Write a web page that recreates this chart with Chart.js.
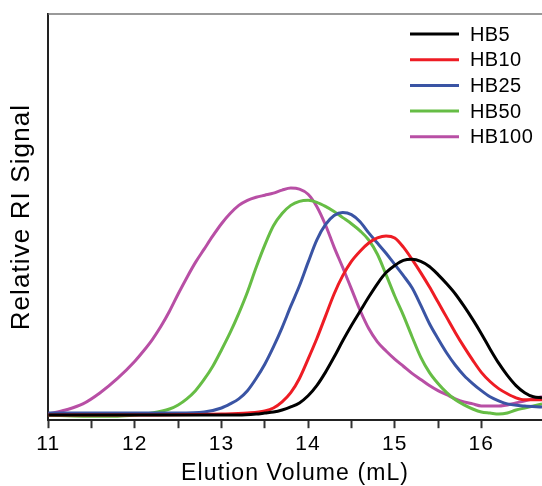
<!DOCTYPE html>
<html>
<head>
<meta charset="utf-8">
<script src="https://cdn.jsdelivr.net/npm/chart.js@4/dist/chart.umd.min.js"></script>
<style>
  html, body { margin: 0; padding: 0; background: #fff; overflow: hidden; }
  #wrap { width: 542px; height: 486px; }
</style>
</head>
<body>
<div id="wrap"><canvas id="c" width="542" height="486"></canvas></div>
<script>
// Series labels
const seriesLabels = ['HB5', 'HB10', 'HB25', 'HB50', 'HB100'];
const seriesColors = ['#000000', '#ee1c24', '#3a54a4', '#66bd45', '#b84fa5'];

// Elution volume (mL) and relative RI signal (arbitrary units) per series
const hb5Vol = [11.0, 11.5, 12.0, 12.5, 13.0, 13.2, 13.4, 13.5, 13.6, 13.7, 13.8, 13.9, 14.0, 14.1, 14.2, 14.3, 14.4, 14.5, 14.6, 14.7, 14.8, 14.9, 15.0, 15.1, 15.2, 15.3, 15.4, 15.5, 15.6, 15.7, 15.8, 15.9, 16.0, 16.1, 16.2, 16.3, 16.4, 16.5, 16.6, 16.7];
const hb5Sig = [5, 5, 5, 5, 5, 5, 6, 7, 8, 10, 13, 17, 24, 34, 47, 62, 78, 93, 107, 121, 134, 145, 152, 157, 158, 156, 151, 143, 134, 124, 112, 99, 85, 70, 56, 44, 34, 27, 23, 22];

const hb10Vol = [11.0, 12.0, 13.0, 13.3, 13.5, 13.6, 13.7, 13.8, 13.9, 14.0, 14.1, 14.2, 14.3, 14.4, 14.5, 14.6, 14.7, 14.8, 14.9, 15.0, 15.1, 15.2, 15.3, 15.4, 15.5, 15.6, 15.7, 15.8, 15.9, 16.0, 16.1, 16.2, 16.3, 16.4, 16.5, 16.7];
const hb10Sig = [5, 5, 6, 7, 9, 12, 18, 27, 41, 60, 80, 102, 124, 142, 156, 166, 174, 179, 181, 179, 170, 158, 145, 131, 116, 101, 86, 72, 59, 47, 38, 31, 26, 22, 20, 20];

const hb25Vol = [11.0, 12.0, 12.5, 12.8, 13.0, 13.1, 13.2, 13.3, 13.4, 13.5, 13.6, 13.7, 13.8, 13.9, 14.0, 14.1, 14.2, 14.3, 14.4, 14.5, 14.6, 14.7, 14.8, 14.9, 15.0, 15.1, 15.2, 15.3, 15.4, 15.5, 15.6, 15.7, 15.8, 15.9, 16.0, 16.1, 16.2, 16.3, 16.5, 16.7];
const hb25Sig = [7, 7, 7, 8, 12, 16, 21, 29, 41, 55, 72, 91, 112, 132, 155, 177, 192, 201, 204, 202, 195, 184, 174, 164, 153, 142, 130, 113, 95, 80, 66, 54, 44, 36, 29, 23, 19, 16, 14, 13];

const hb50Vol = [11.0, 11.4, 11.8, 12.0, 12.2, 12.4, 12.5, 12.6, 12.7, 12.8, 12.9, 13.0, 13.1, 13.2, 13.3, 13.4, 13.5, 13.6, 13.7, 13.8, 13.9, 14.0, 14.1, 14.2, 14.3, 14.4, 14.5, 14.6, 14.7, 14.8, 14.9, 15.0, 15.1, 15.2, 15.3, 15.4, 15.5, 15.6, 15.7, 15.8, 15.9, 16.0, 16.1, 16.2, 16.3, 16.4, 16.5, 16.7];
const hb50Sig = [5, 4, 4, 5, 7, 11, 15, 21, 29, 40, 53, 69, 86, 105, 126, 150, 172, 191, 203, 211, 215, 216, 214, 210, 205, 199, 193, 186, 177, 163, 143, 122, 103, 82, 62, 47, 36, 27, 20, 15, 11, 8, 7, 6, 7, 10, 12, 16];

const hb100Vol = [11.0, 11.2, 11.4, 11.6, 11.8, 12.0, 12.1, 12.2, 12.3, 12.4, 12.5, 12.6, 12.7, 12.8, 12.9, 13.0, 13.1, 13.2, 13.3, 13.4, 13.5, 13.6, 13.7, 13.8, 13.9, 14.0, 14.1, 14.2, 14.3, 14.4, 14.5, 14.6, 14.7, 14.8, 14.9, 15.0, 15.1, 15.2, 15.3, 15.4, 15.5, 15.6, 15.7, 15.8, 15.9, 16.0, 16.2, 16.4, 16.7];
const hb100Sig = [6, 10, 16, 27, 41, 58, 68, 79, 92, 107, 124, 140, 155, 168, 181, 193, 203, 211, 216, 219, 221, 223, 226, 228, 227, 222, 210, 192, 170, 150, 129, 108, 90, 77, 68, 60, 53, 46, 40, 34, 29, 25, 21, 18, 16, 14, 14, 17, 23];

// Axis range and tick labels
const xMin = 11, xMax = 16.7, xStep = 0.5;
const yMin = 0, yMax = 399;
const xTitle = 'Elution Volume (mL)';
const yTitle = 'Relative RI Signal';

const vols = [hb5Vol, hb10Vol, hb25Vol, hb50Vol, hb100Vol];
const sigs = [hb5Sig, hb10Sig, hb25Sig, hb50Sig, hb100Sig];

const datasets = seriesLabels.map((lab, i) => ({
  label: lab,
  data: vols[i].map((v, j) => ({ x: v, y: sigs[i][j] })),
  borderColor: seriesColors[i],
  backgroundColor: seriesColors[i],
  borderWidth: 3,
  pointRadius: 0,
  fill: false,
  cubicInterpolationMode: 'monotone'
}));

const FONT = '"Liberation Sans", Arial, sans-serif';

const spacingPlugin = {
  id: 'spacing',
  beforeDraw(chart) { try { chart.ctx.letterSpacing = '1.1px'; } catch (e) {} },
  beforeDatasetsDraw(chart) { try { chart.ctx.letterSpacing = '0px'; } catch (e) {} }
};

const framePlugin = {
  id: 'frame',
  afterDraw(chart) {
    const { ctx, chartArea } = chart;
    ctx.save();
    ctx.strokeStyle = '#777';
    ctx.lineWidth = 1.5;
    ctx.beginPath();
    ctx.moveTo(chartArea.left, chartArea.top);
    ctx.lineTo(chartArea.right, chartArea.top);
    ctx.stroke();
    ctx.restore();
  }
};

const legendPlugin = {
  id: 'customLegend',
  afterDraw(chart) {
    const { ctx } = chart;
    ctx.save();
    try { ctx.letterSpacing = '0.4px'; } catch (e) {}
    ctx.font = '20px ' + FONT;
    ctx.textBaseline = 'middle';
    ctx.textAlign = 'left';
    chart.data.datasets.forEach((ds, i) => {
      const y = 34 + i * 25.7;
      ctx.strokeStyle = ds.borderColor;
      ctx.lineWidth = 3;
      ctx.beginPath();
      ctx.moveTo(410, y);
      ctx.lineTo(459, y);
      ctx.stroke();
      ctx.fillStyle = '#000';
      ctx.fillText(ds.label, 470, y + 1);
    });
    ctx.restore();
  }
};

new Chart(document.getElementById('c'), {
  type: 'line',
  data: { datasets },
  plugins: [spacingPlugin, framePlugin, legendPlugin],
  options: {
    responsive: false,
    animation: false,
    devicePixelRatio: 1,
    layout: { padding: { top: 14, left: 0, right: 0, bottom: 0 } },
    plugins: { legend: { display: false }, tooltip: { enabled: false } },
    scales: {
      x: {
        type: 'linear',
        min: xMin,
        max: xMax,
        afterBuildTicks(axis) {
          axis.ticks = axis.ticks.filter(t => Math.abs(t.value / xStep - Math.round(t.value / xStep)) < 1e-6);
        },
        ticks: {
          stepSize: xStep,
          autoSkip: false,
          maxRotation: 0,
          padding: 3,
          color: '#000',
          font: { family: FONT, size: 21 },
          callback: v => Math.abs(v - Math.round(v)) < 1e-6 ? String(Math.round(v)) : ''
        },
        grid: {
          display: true,
          drawOnChartArea: false,
          drawTicks: true,
          tickLength: 8,
          tickWidth: 2,
          tickColor: '#333'
        },
        border: { display: true, color: '#222', width: 2 },
        title: {
          display: true,
          text: xTitle,
          color: '#000',
          font: { family: FONT, size: 23 },
          padding: { top: 0, bottom: -1 }
        }
      },
      y: {
        type: 'linear',
        min: yMin,
        max: yMax,
        ticks: { display: false },
        grid: { display: false, drawTicks: false },
        border: { display: true, color: '#222', width: 2 },
        title: {
          display: true,
          text: yTitle,
          color: '#000',
          font: { family: FONT, size: 26 },
          padding: { top: 6, bottom: 11 }
        }
      }
    }
  }
});
</script>
</body>
</html>
